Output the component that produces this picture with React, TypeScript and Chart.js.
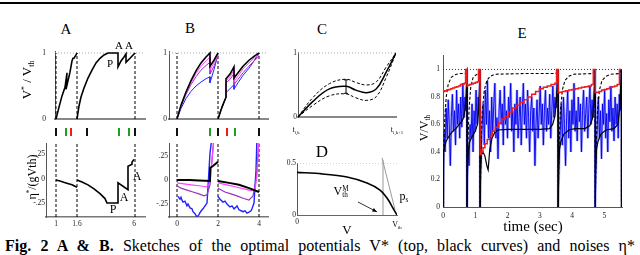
import React, { useEffect, useRef } from "react";
import { Chart, registerables } from "chart.js";
Chart.register(...registerables);

const SERIF = "'Liberation Serif', 'DejaVu Serif', serif";
const BLACK = "#000000";
const GREEN = "#1f9f1f";
const RED = "#ee1c1c";
const MAGENTA = "#ff44ff";
const PURPLE = "#9933bb";
const BLUE = "#2222ff";
const DARKBLUE = "#0000ee";
const LIGHTBLUE = "rgba(110,110,255,0.55)";
const GRAY = "#aaaaaa";

// ===================== Panel A (time in arbitrary units) =====================
const aDash = [1, 22, 80];
const aTopX1 = [1, 4, 7, 10, 12, 11, 15, 17, 18, 19, 21, 22];
const aTopY1 = [0, 0.18, 0.35, 0.48, 0.7, 0.45, 0.71, 0.88, 0.92, 0.92, 0.97, 1.0];
const aTopX2 = [22, 24, 26, 29, 33, 37, 41, 45, 49, 53, 63, 63, 66, 69, 71, 71, 75, 80];
const aTopY2 = [0, 0.197, 0.333, 0.47, 0.62, 0.74, 0.85, 0.92, 0.97, 1.0, 1.0, 0.79, 0.88, 0.94, 0.985, 0.86, 0.92, 1.0];
const aBotX1 = [1, 5, 11, 17, 22];
const aBotY1 = [-0.01, -0.02, -0.04, -0.06, -0.085];
const aBotX2 = [22, 27, 33, 39, 45, 50, 52, 63, 63, 73, 73, 77, 77, 79];
const aBotY2 = [-0.01, -0.03, -0.06, -0.1, -0.15, -0.2, -0.245, -0.245, -0.04, -0.11, 0.13, 0.15, 0.17, 0.2];
const aBotTicks = [1, 22, 79];
const aBotLabels = ["1", "1.6", "6"];
const aRasterX = [1, 11, 16, 32, 64, 74, 80];
const aRasterKind = ["k", "g", "r", "k", "g", "g", "k"];

const vTicks = [0, 1];
const vLabels = ["0", "1"];
const etaTicks = [-0.25, 0, 0.25];
const etaLabels = ["-.25", "0", ".25"];

// ===================== Panel B =====================
const bDash = [8, 49, 90];
const bSeg1X = [8, 12, 17, 22, 27, 32, 37, 41, 41, 45, 49];
const bTopBlack1 = [0, 0.21, 0.41, 0.58, 0.73, 0.85, 0.94, 1.0, 0.8, 0.89, 1.0];
const bTopMag1 = [0, 0.2, 0.39, 0.55, 0.69, 0.8, 0.88, 0.94, 0.74, 0.85, 0.97];
const bTopPur1 = [0, 0.19, 0.37, 0.52, 0.64, 0.74, 0.81, 0.86, 0.68, 0.8, 0.95];
const bTopBlue1 = [0, 0.16, 0.31, 0.42, 0.5, 0.56, 0.61, 0.64, 0.55, 0.75, 0.98];
const bSeg2X = [49, 53, 57, 57, 61, 65, 65, 69, 74, 80, 85, 90];
const bTopBlack2 = [0, 0.18, 0.33, 0.61, 0.68, 0.79, 0.62, 0.7, 0.8, 0.89, 0.95, 1.0];
const bTopMag2 = [0, 0.18, 0.33, 0.58, 0.64, 0.74, 0.57, 0.65, 0.76, 0.85, 0.92, 0.97];
const bTopPur2 = [0, 0.18, 0.33, 0.55, 0.6, 0.69, 0.52, 0.6, 0.7, 0.8, 0.88, 0.95];
const bTopBlue2 = [0, 0.18, 0.33, 0.4, 0.46, 0.52, 0.45, 0.55, 0.66, 0.77, 0.88, 1.0];

const bBotBlackX1 = [8, 20, 30, 41, 41, 44, 49];
const bBotBlackY1 = [0, 0, -0.005, -0.01, 0.125, 0.145, 0.19];
const bBotBlackX2 = [49, 60, 70, 80, 90];
const bBotBlackY2 = [-0.01, -0.03, -0.05, -0.085, -0.125];
const bBotMagX1 = [8, 15, 22, 30, 37, 40, 42, 44, 46];
const bBotMagY1 = [-0.03, -0.04, -0.05, -0.06, -0.07, -0.05, 0.1, 0.31, 0.52];
const bBotMagX2 = [49, 58, 66, 74, 82, 86, 88, 89, 90];
const bBotMagY2 = [-0.03, -0.05, -0.07, -0.09, -0.11, -0.1, 0.05, 0.26, 0.47];
const bBotPurX1 = [8, 12, 18, 24, 30, 35, 38, 41, 43, 45];
const bBotPurY1 = [-0.06, -0.085, -0.105, -0.125, -0.145, -0.165, -0.155, -0.05, 0.21, 0.47];
const bBotPurX2 = [49, 56, 62, 68, 74, 80, 84, 87, 89, 90];
const bBotPurY2 = [-0.085, -0.125, -0.145, -0.165, -0.19, -0.21, -0.165, 0, 0.26, 0.47];
const bBotBlueX1 = [9, 11, 12, 13, 14, 16, 18, 19, 21, 23, 24, 26, 28, 30, 31, 33, 34, 36, 38, 39, 41, 43];
const bBotBlueY1 = [-0.17, -0.2, -0.18, -0.21, -0.23, -0.22, -0.27, -0.25, -0.29, -0.3, -0.33, -0.35, -0.385, -0.36, -0.34, -0.31, -0.3, -0.27, -0.24, -0.07, 0.28, 0.45];
const bBotBlueX2 = [49, 51, 54, 56, 58, 61, 63, 65, 67, 68, 70, 72, 74, 76, 78, 80, 82, 83, 85, 87, 88];
const bBotBlueY2 = [-0.17, -0.2, -0.23, -0.22, -0.25, -0.28, -0.27, -0.3, -0.28, -0.27, -0.31, -0.32, -0.33, -0.32, -0.345, -0.335, -0.32, -0.3, -0.24, 0.1, 0.45];
const bBotTicks = [8, 49, 90];
const bBotLabels = ["0", "2", "4"];
const bRasterX = [8, 41, 49, 58, 66, 90];
const bRasterKind = ["k", "g", "k", "r", "g", "k"];

// ===================== Panel C =====================
const cX = [0, 0.15, 0.32, 0.49, 0.59, 0.7, 0.8, 0.9, 1];
const cMean = [0, 0.24, 0.44, 0.48, 0.42, 0.38, 0.44, 0.7, 1];
const cUpper = [0, 0.3, 0.52, 0.59, 0.54, 0.5, 0.55, 0.78, 1];
const cLower = [0, 0.18, 0.33, 0.36, 0.3, 0.26, 0.32, 0.62, 1];
const cErrX = 0.49;
const cErrLo = 0.37;
const cErrHi = 0.58;

// ===================== Panel D =====================
const dX = [0, 0.25, 0.5, 0.7, 0.83, 0.9, 0.96, 1.0];
const dY = [0.41, 0.395, 0.365, 0.308, 0.24, 0.163, 0.067, 0];
const dVmTh = 0.86;
const dDiagX = [0.85, 0.98];
const dDiagY = [0.55, 0.05];
const dArrowFrom = [0.61, 0.125];
const dArrowTo = [0.8, 0.03];

// ===================== Panel E =====================
const eSpikes = [0.745, 1.15, 3.57, 4.72, 5.53];
const eSolidT = [0, 0.01, 0.03, 0.06, 0.1, 0.2, 0.3, 0.4, 0.5, 0.58, 0.64, 0.69, 0.72, 0.745, 0.745, 0.755, 0.78, 0.82, 0.9, 1.0, 1.07, 1.11, 1.15, 1.15, 1.16, 1.19, 1.24, 1.3, 1.36, 1.4, 1.45, 1.52, 1.6, 1.7, 2.0, 2.5, 3.0, 3.3, 3.4, 3.47, 3.52, 3.57, 3.57, 3.58, 3.61, 3.66, 3.75, 3.9, 4.1, 4.4, 4.55, 4.63, 4.68, 4.72, 4.72, 4.73, 4.76, 4.81, 4.9, 5.05, 5.3, 5.42, 5.48, 5.53, 5.53];
const eSolidV = [0, 0.25, 0.4, 0.45, 0.48, 0.52, 0.55, 0.57, 0.6, 0.62, 0.65, 0.72, 0.82, 1, 0, 0.25, 0.4, 0.47, 0.51, 0.55, 0.6, 0.72, 1, 0, 0.25, 0.38, 0.4, 0.37, 0.3, 0.27, 0.42, 0.5, 0.54, 0.56, 0.565, 0.565, 0.565, 0.57, 0.6, 0.66, 0.78, 1, 0, 0.25, 0.42, 0.48, 0.53, 0.56, 0.57, 0.57, 0.59, 0.64, 0.75, 1, 0, 0.25, 0.42, 0.48, 0.53, 0.56, 0.57, 0.6, 0.72, 1, 0];
const eDashT = [0, 0.02, 0.05, 0.1, 0.16, 0.25, 0.35, 0.5, 0.7, 0.745, 0.745, 0.77, 0.81, 0.86, 0.93, 1.02, 1.12, 1.15, 1.15, 1.18, 1.22, 1.28, 1.36, 1.46, 1.6, 2.5, 3.5, 3.57, 3.57, 3.6, 3.64, 3.7, 3.78, 3.9, 4.05, 4.65, 4.72, 4.72, 4.75, 4.79, 4.85, 4.93, 5.05, 5.2, 5.48, 5.53];
const eDashV = [0, 0.4, 0.62, 0.8, 0.89, 0.94, 0.96, 0.97, 0.97, 1, 0, 0.45, 0.72, 0.87, 0.94, 0.96, 0.97, 1, 0, 0.45, 0.7, 0.85, 0.92, 0.95, 0.965, 0.97, 0.97, 1, 0, 0.45, 0.7, 0.85, 0.92, 0.95, 0.965, 0.97, 1, 0, 0.45, 0.7, 0.85, 0.92, 0.95, 0.965, 0.97, 1];
const eRedT = [0, 0, 0.06, 0.12, 0.18, 0.24, 0.3, 0.36, 0.42, 0.48, 0.54, 0.6, 0.66, 0.7, 0.7, 0.745,
  0.745, 0.76, 0.82, 0.88, 0.94, 1.0, 1.06, 1.1, 1.1, 1.15,
  1.15, 1.19, 1.24, 1.3, 1.37, 1.45, 1.53, 1.62, 1.72, 1.82, 1.93, 2.04, 2.15, 2.27, 2.39, 2.51, 2.63, 2.75, 2.87, 2.99, 3.11, 3.23, 3.35, 3.47, 3.52, 3.52, 3.57,
  3.57, 3.6, 3.7, 3.8, 3.9, 4.0, 4.1, 4.2, 4.3, 4.4, 4.5, 4.6, 4.66, 4.66, 4.72,
  4.72, 4.76, 4.84, 4.92, 5.0, 5.08, 5.16, 5.24, 5.32, 5.4, 5.47, 5.47, 5.53];
const eRedV = [1, 0.84, 0.845, 0.85, 0.855, 0.86, 0.865, 0.87, 0.875, 0.88, 0.89, 0.895, 0.9, 0.905, 1, 1,
  0.88, 0.885, 0.89, 0.895, 0.9, 0.905, 0.91, 0.915, 1, 1,
  0.38, 0.4, 0.43, 0.46, 0.49, 0.52, 0.55, 0.58, 0.61, 0.64, 0.66, 0.69, 0.72, 0.74, 0.76, 0.78, 0.8, 0.82, 0.84, 0.86, 0.87, 0.88, 0.89, 0.9, 0.91, 1, 1,
  0.83, 0.835, 0.84, 0.845, 0.85, 0.855, 0.86, 0.865, 0.87, 0.875, 0.88, 0.89, 0.9, 1, 1,
  0.83, 0.835, 0.84, 0.85, 0.855, 0.86, 0.87, 0.875, 0.88, 0.89, 0.9, 1, 1];
const eBlueStarts = [0, 0.745, 1.15, 3.57, 4.72];
const eBlueEnds = [0.745, 1.15, 3.57, 4.72, 5.53];
const eBlue1 = [0, 0.55, 0.4, 0.72, 0.5, 0.78, 0.6, 0.3, 0.65, 0.82, 0.55, 0.7, 0.45, 0.85, 0.6, 0.75, 0.5, 0.8, 0.58, 0.9, 0.65, 0.8, 0.7, 1];
const eBlue2 = [0, 0.45, 0.3, 0.6, 0.5, 0.75, 0.4, 0.7, 0.55, 0.85, 0.6, 0.8, 0.7, 1];
const eBlue3 = [0, 0.4, 0.6, 0.75, 0.45, 0.85, 0.6, 0.92, 0.5, 0.7, 0.4, 0.8, 0.55, 0.75, 0.9, 0.5, 0.65, 0.35, 0.7, 0.85, 0.6, 0.75, 0.45, 0.88, 0.6, 0.7, 0.5, 0.8, 0.65, 0.9, 0.55, 0.7, 0.4, 0.75, 0.6, 0.85, 0.5, 0.65, 0.8, 0.45, 0.7, 0.9, 0.6, 0.75, 0.5, 0.85, 0.65, 0.4, 0.7, 0.8, 0.55, 0.72, 0.3, 0.6, 0.78, 0.5, 0.68, 0.88, 0.6, 0.75, 0.45, 0.7, 0.85, 0.55, 0.72, 0.6, 0.82, 0.5, 0.7, 0.88, 0.65, 0.8, 0.72, 0.9, 1];
const eBlue4 = [0, 0.35, 0.55, 0.75, 0.45, 0.8, 0.6, 0.3, 0.65, 0.85, 0.5, 0.7, 0.4, 0.78, 0.6, 0.9, 0.55, 0.7, 0.48, 0.8, 0.62, 0.75, 0.4, 0.7, 0.85, 0.55, 0.68, 0.8, 0.5, 0.72, 0.88, 0.6, 0.78, 0.65, 0.85, 1];
const eBlue5 = [0, 0.4, 0.6, 0.8, 0.5, 0.7, 0.35, 0.75, 0.6, 0.85, 0.5, 0.68, 0.4, 0.78, 0.62, 0.88, 0.55, 0.72, 0.48, 0.8, 0.6, 0.75, 0.5, 0.82, 0.7, 1];
const eBlueSegs = [eBlue1, eBlue2, eBlue3, eBlue4, eBlue5];
const eBlueTailT = 5.55;
const eBlueTailV = 0.05;
const eYTicks = [0, 0.2, 0.4, 0.6, 0.8, 1];
const eYLabels = ["0", "0.2", "0.4", "0.6", "0.8", "1"];
const eXTicks = [0, 1, 2, 3, 4, 5];
const eXLabels = ["0", "1", "2", "3", "4", "5"];

// ===================== helpers =====================
type Pt = { x: number; y: number | null };
const pts = (xs: number[], ys: number[]): Pt[] => xs.map((x, i) => ({ x, y: ys[i] }));
const vlines = (xs: number[], y0: number, y1: number): Pt[] =>
  xs.flatMap((x) => [{ x, y: y0 }, { x, y: y1 }, { x, y: null }]);
const hline = (x0: number, x1: number, y: number): Pt[] => [{ x: x0, y }, { x: x1, y }];
const KIND_COLORS: Record<string, string> = { k: "#111111", g: GREEN, r: RED };

function line(data: Pt[], color: string, width: number, extra: any = {}) {
  return {
    data,
    showLine: true,
    borderColor: color,
    backgroundColor: color,
    borderWidth: width,
    pointRadius: 0,
    fill: false,
    tension: 0,
    spanGaps: false,
    ...extra,
  };
}

function lin(o: any) {
  return {
    type: "linear",
    display: true,
    min: o.min,
    max: o.max,
    afterFit: (s: any) => {
      if (s.isHorizontal()) s.height = o.size;
      else s.width = o.size;
      s.paddingLeft = 0;
      s.paddingRight = 0;
      s.paddingTop = 0;
      s.paddingBottom = 0;
    },
    afterBuildTicks: (s: any) => {
      s.ticks = (o.ticks || []).map((v: number) => ({ value: v }));
    },
    ticks: {
      display: !!o.labels,
      font: { family: SERIF, size: o.fontSize ?? 7.5 },
      color: "#222",
      padding: o.pad ?? 2,
      maxRotation: 0,
      autoSkip: false,
      callback: (v: number) => {
        const i = (o.ticks || []).indexOf(v);
        return i >= 0 && o.labels ? o.labels[i] : "";
      },
    },
    grid: {
      display: true,
      drawOnChartArea: false,
      drawTicks: !!o.tickLen,
      tickLength: o.tickLen ?? 0,
      color: "#555",
    },
    border: { display: true, color: o.color ?? "#555", width: o.width ?? 1 },
  };
}
const hidden = (min: number, max: number) => ({ type: "linear", display: false, min, max });

function rasterDatasets(xs: number[], kinds: string[]) {
  return Object.keys(KIND_COLORS).map((k) =>
    line(vlines(xs.filter((_, i) => kinds[i] === k), -1, 1), KIND_COLORS[k], 2)
  );
}

function Plot(props: { x: number; y: number; w: number; h: number; l: number; t: number; r: number; b: number; make: (l: number, b: number) => any }) {
  const ref = useRef<HTMLCanvasElement | null>(null);
  const { x, y, w, h, l, t, r, b, make } = props;
  const W = w + l + r;
  const H = h + t + b;
  useEffect(() => {
    const cfg = make(l, b);
    const chart = new Chart(ref.current as HTMLCanvasElement, {
      type: "scatter",
      data: { datasets: cfg.datasets },
      plugins: cfg.plugins || [],
      options: {
        animation: false,
        responsive: false,
        maintainAspectRatio: false,
        devicePixelRatio: 1,
        events: [],
        layout: {
          padding: cfg.noAxes ? { left: l, top: t, right: r, bottom: b } : { left: 0, top: t, right: r, bottom: 0 },
        },
        plugins: { legend: { display: false }, tooltip: { enabled: false } },
        scales: cfg.scales,
      } as any,
    } as any);
    return () => chart.destroy();
  }, []);
  return (
    <canvas
      ref={ref}
      width={W}
      height={H}
      style={{ position: "absolute", left: x - l, top: y - t, width: W, height: H }}
    />
  );
}

function Txt(p: { x: number; y: number; size: number; rot?: boolean; bold?: boolean; children: any }) {
  return (
    <div
      style={{
        position: "absolute",
        left: p.x,
        top: p.y,
        transform: `translate(-50%,-50%)${p.rot ? " rotate(-90deg)" : ""}`,
        fontFamily: SERIF,
        fontSize: p.size,
        fontWeight: p.bold ? "bold" : "normal",
        whiteSpace: "nowrap",
        lineHeight: 1,
        color: "#000",
      }}
    >
      {p.children}
    </div>
  );
}
const Sub = ({ children }: any) => <span style={{ fontSize: "0.6em", verticalAlign: "-0.35em" }}>{children}</span>;
const Sup = ({ children }: any) => <span style={{ fontSize: "0.6em", verticalAlign: "0.6em" }}>{children}</span>;

const arrowPlugin = {
  id: "dArrow",
  afterDatasetsDraw(chart: any) {
    const { ctx, scales } = chart;
    const x0 = scales.x.getPixelForValue(dArrowFrom[0]);
    const y0 = scales.y.getPixelForValue(dArrowFrom[1]);
    const x1 = scales.x.getPixelForValue(dArrowTo[0]);
    const y1 = scales.y.getPixelForValue(dArrowTo[1]);
    const a = Math.atan2(y1 - y0, x1 - x0);
    ctx.save();
    ctx.fillStyle = "#000";
    ctx.beginPath();
    ctx.moveTo(x1, y1);
    ctx.lineTo(x1 - 5 * Math.cos(a - 0.4), y1 - 5 * Math.sin(a - 0.4));
    ctx.lineTo(x1 - 5 * Math.cos(a + 0.4), y1 - 5 * Math.sin(a + 0.4));
    ctx.closePath();
    ctx.fill();
    ctx.restore();
  },
};

export default function App() {
  const eBlue: Pt[] = eBlueSegs
    .flatMap((vals, k) =>
      vals.map((v, i) => ({ x: eBlueStarts[k] + ((eBlueEnds[k] - eBlueStarts[k]) * i) / (vals.length - 1), y: v }))
    )
    .concat([{ x: eBlueTailT, y: eBlueTailV }]);

  return (
    <div style={{ position: "absolute", left: 0, top: 0, width: 640, height: 255, overflow: "hidden", background: "#fff" }}>
      <div style={{ position: "absolute", left: 0, top: 2, width: 640, height: 2, background: "#000" }} />

      {/* ---------- A top ---------- */}
      <Plot x={55} y={51} w={90} h={68} l={22} t={6} r={4} b={3} make={(l, b) => ({
        datasets: [
          line(pts(aTopX1, aTopY1), BLACK, 1.6),
          line(pts(aTopX2, aTopY2), BLACK, 1.6),
          line(vlines(aDash, 0, 1), BLACK, 1, { borderDash: [3, 2] }),
          line(hline(0, 90, 1), GRAY, 1, { borderDash: [1, 2] }),
        ],
        scales: {
          x: lin({ min: 0, max: 90, size: b, color: "#888", width: 2 }),
          y: lin({ min: 0, max: 1.03, size: l, ticks: vTicks, labels: vLabels, pad: 9 }),
        },
      })} />
      <Plot x={55} y={128} w={90} h={8} l={0} t={1} r={0} b={1} make={() => ({
        noAxes: true,
        datasets: rasterDatasets(aRasterX, aRasterKind),
        scales: { x: hidden(0, 90), y: hidden(-1, 1) },
      })} />
      {/* ---------- A bottom ---------- */}
      <Plot x={46} y={143} w={99} h={74} l={14} t={4} r={6} b={14} make={(l, b) => ({
        datasets: [
          line(pts(aBotX1, aBotY1), BLACK, 1.6),
          line(pts(aBotX2, aBotY2), BLACK, 1.6),
          line(vlines(aDash, -0.388, 0.367), BLACK, 1, { borderDash: [3, 2] }),
        ],
        scales: {
          x: lin({ min: -9, max: 90, size: b, ticks: aBotTicks, labels: aBotLabels, color: "#777", width: 1.5, pad: 3 }),
          y: lin({ min: -0.388, max: 0.367, size: l, ticks: etaTicks, labels: etaLabels, pad: 1 }),
        },
      })} />

      {/* ---------- B top ---------- */}
      <Plot x={169} y={51} w={99} h={68} l={14} t={6} r={4} b={3} make={(l, b) => ({
        datasets: [
          line(pts(bSeg1X, bTopBlack1), BLACK, 1.6),
          line(pts(bSeg2X, bTopBlack2), BLACK, 1.6),
          line(pts(bSeg1X, bTopMag1), MAGENTA, 1),
          line(pts(bSeg2X, bTopMag2), MAGENTA, 1),
          line(pts(bSeg1X, bTopPur1), PURPLE, 1),
          line(pts(bSeg2X, bTopPur2), PURPLE, 1),
          line(pts(bSeg1X, bTopBlue1), BLUE, 1),
          line(pts(bSeg2X, bTopBlue2), BLUE, 1),
          line(vlines(bDash, 0, 1), BLACK, 1, { borderDash: [3, 2] }),
          line(hline(0, 99, 1), GRAY, 1, { borderDash: [1, 2] }),
        ],
        scales: {
          x: lin({ min: 0, max: 99, size: b, color: "#888", width: 2 }),
          y: lin({ min: 0, max: 1.03, size: l, ticks: vTicks, labels: vLabels, pad: 2 }),
        },
      })} />
      <Plot x={169} y={128} w={99} h={8} l={0} t={1} r={0} b={1} make={() => ({
        noAxes: true,
        datasets: rasterDatasets(bRasterX, bRasterKind),
        scales: { x: hidden(0, 99), y: hidden(-1, 1) },
      })} />
      {/* ---------- B bottom ---------- */}
      <Plot x={169} y={143} w={99} h={74} l={14} t={4} r={6} b={14} make={(l, b) => ({
        datasets: [
          line(pts(bBotBlackX1, bBotBlackY1), BLACK, 2),
          line(pts(bBotBlackX2, bBotBlackY2), BLACK, 2),
          line(pts(bBotMagX1, bBotMagY1), MAGENTA, 1.2),
          line(pts(bBotMagX2, bBotMagY2), MAGENTA, 1.2),
          line(pts(bBotPurX1, bBotPurY1), PURPLE, 1.2),
          line(pts(bBotPurX2, bBotPurY2), PURPLE, 1.2),
          line(pts(bBotBlueX1, bBotBlueY1), BLUE, 1.4),
          line(pts(bBotBlueX2, bBotBlueY2), BLUE, 1.4),
          line(vlines(bDash, -0.385, 0.385), BLACK, 1, { borderDash: [3, 2] }),
        ],
        scales: {
          x: lin({ min: 0, max: 99, size: b, ticks: bBotTicks, labels: bBotLabels, color: "#777", width: 1.5, pad: 3 }),
          y: lin({ min: -0.385, max: 0.385, size: l, ticks: etaTicks, labels: etaLabels, pad: 1 }),
        },
      })} />

      {/* ---------- C ---------- */}
      <Plot x={298} y={52} w={99} h={67} l={10} t={6} r={4} b={3} make={(l, b) => ({
        datasets: [
          line([{ x: cErrX, y: cErrLo }, { x: cErrX, y: cErrHi }], BLACK, 1, { pointStyle: "line", pointRadius: 2, pointBorderWidth: 1 }),
          line(pts(cX, cMean), BLACK, 1.5, { tension: 0.4 }),
          line(pts(cX, cUpper), BLACK, 1, { tension: 0.4, borderDash: [3, 2] }),
          line(pts(cX, cLower), BLACK, 1, { tension: 0.4, borderDash: [3, 2] }),
          line(hline(0, 1, 1), GRAY, 1, { borderDash: [1, 2] }),
        ],
        scales: {
          x: lin({ min: 0, max: 1, size: b, color: "#888", width: 2 }),
          y: lin({ min: 0, max: 1.015, size: l, ticks: vTicks, labels: vLabels, pad: 1 }),
        },
      })} />

      {/* ---------- D ---------- */}
      <Plot x={297} y={163} w={100} h={52} l={14} t={8} r={6} b={13} make={(l, b) => ({
        plugins: [arrowPlugin],
        datasets: [
          line(pts(dX, dY), BLACK, 1.6, { tension: 0.3 }),
          line([{ x: dArrowFrom[0], y: dArrowFrom[1] }, { x: dArrowTo[0], y: dArrowTo[1] }], BLACK, 0.8),
          line([{ x: dVmTh, y: 0 }, { x: dVmTh, y: 0.53 }], "#999", 1, { clip: false }),
          line(pts(dDiagX, dDiagY), "#999", 1, { clip: false }),
          line(hline(0, 1, 0.5), GRAY, 1, { borderDash: [1, 2] }),
        ],
        scales: {
          x: lin({ min: 0, max: 1, size: b, ticks: [0, 1], labels: ["0", ""], color: "#666", width: 1, pad: 3 }),
          y: lin({ min: 0, max: 0.5, size: l, ticks: [0, 0.5], labels: ["0", "0.5"], pad: 1 }),
        },
      })} />

      {/* ---------- E ---------- */}
      <Plot x={443} y={55} w={179} h={152} l={14} t={4} r={6} b={15} make={(l, b) => ({
        datasets: [
          line(pts(eRedT, eRedV), RED, 1.5, { stepped: true }),
          line(pts(eSolidT, eSolidV), BLACK, 1.2),
          line(pts(eDashT, eDashV), BLACK, 1.1, { borderDash: [3, 2] }),
          line(vlines(eSpikes, 0, 1), "#444", 1, { borderDash: [3, 2] }),
          line(eBlue, DARKBLUE, 0.9),
          line(eBlue, LIGHTBLUE, 2.6),
          line(hline(0, 5.55, 1), BLACK, 0.8, { borderDash: [1, 2] }),
        ],
        scales: {
          x: lin({ min: 0, max: 5.55, size: b, ticks: eXTicks, labels: eXLabels, color: "#555", width: 1, pad: 5 }),
          y: lin({ min: 0, max: 1.105, size: l, ticks: eYTicks, labels: eYLabels, pad: 3 }),
        },
      })} />

      {/* ---------- text ---------- */}
      <Txt x={66} y={29} size={15}>A</Txt>
      <Txt x={190} y={28} size={15}>B</Txt>
      <Txt x={322} y={29} size={15}>C</Txt>
      <Txt x={322} y={151} size={17}>D</Txt>
      <Txt x={522} y={33} size={15}>E</Txt>

      <Txt x={28} y={80} size={13} rot>V<Sup>*</Sup> / V<Sub>th</Sub></Txt>
      <Txt x={32} y={177} size={12} rot>η<Sup>*</Sup>/(gVth)</Txt>
      <Txt x={119} y={45} size={11}>A</Txt>
      <Txt x={129} y={45} size={11}>A</Txt>
      <Txt x={110} y={63} size={11}>P</Txt>
      <Txt x={113} y={209} size={12}>P</Txt>
      <Txt x={124} y={197} size={12}>A</Txt>
      <Txt x={137} y={176} size={12}>A</Txt>

      <Txt x={296} y={131} size={8}>t<Sub>i,k</Sub></Txt>
      <Txt x={397} y={131} size={8}>t<Sub>i,k+1</Sub></Txt>

      <Txt x={347} y={229} size={13}>V</Txt>
      <Txt x={397} y={226} size={8}>V<Sub>th</Sub></Txt>
      <Txt x={404} y={197} size={12}>p<Sub>s</Sub></Txt>
      <Txt x={341} y={192} size={12}>V<span style={{ display: "inline-block", verticalAlign: "middle", lineHeight: 0.9, fontSize: "0.6em", textAlign: "left" }}>M<br />th</span></Txt>

      <Txt x={533} y={226} size={15}>time (sec)</Txt>
      <Txt x={425} y={128} size={12} rot>V/V<Sub>th</Sub></Txt>

      <div
        style={{
          position: "absolute",
          left: 5,
          top: 237,
          width: 630,
          fontFamily: SERIF,
          fontSize: 16,
          lineHeight: "18px",
          textAlign: "justify",
          textAlignLast: "justify" as any,
          color: "#000",
        }}
      >
        <b>Fig. 2 A &amp; B.</b> Sketches of the optimal potentials V* (top, black curves) and noises η*
      </div>
    </div>
  );
}
